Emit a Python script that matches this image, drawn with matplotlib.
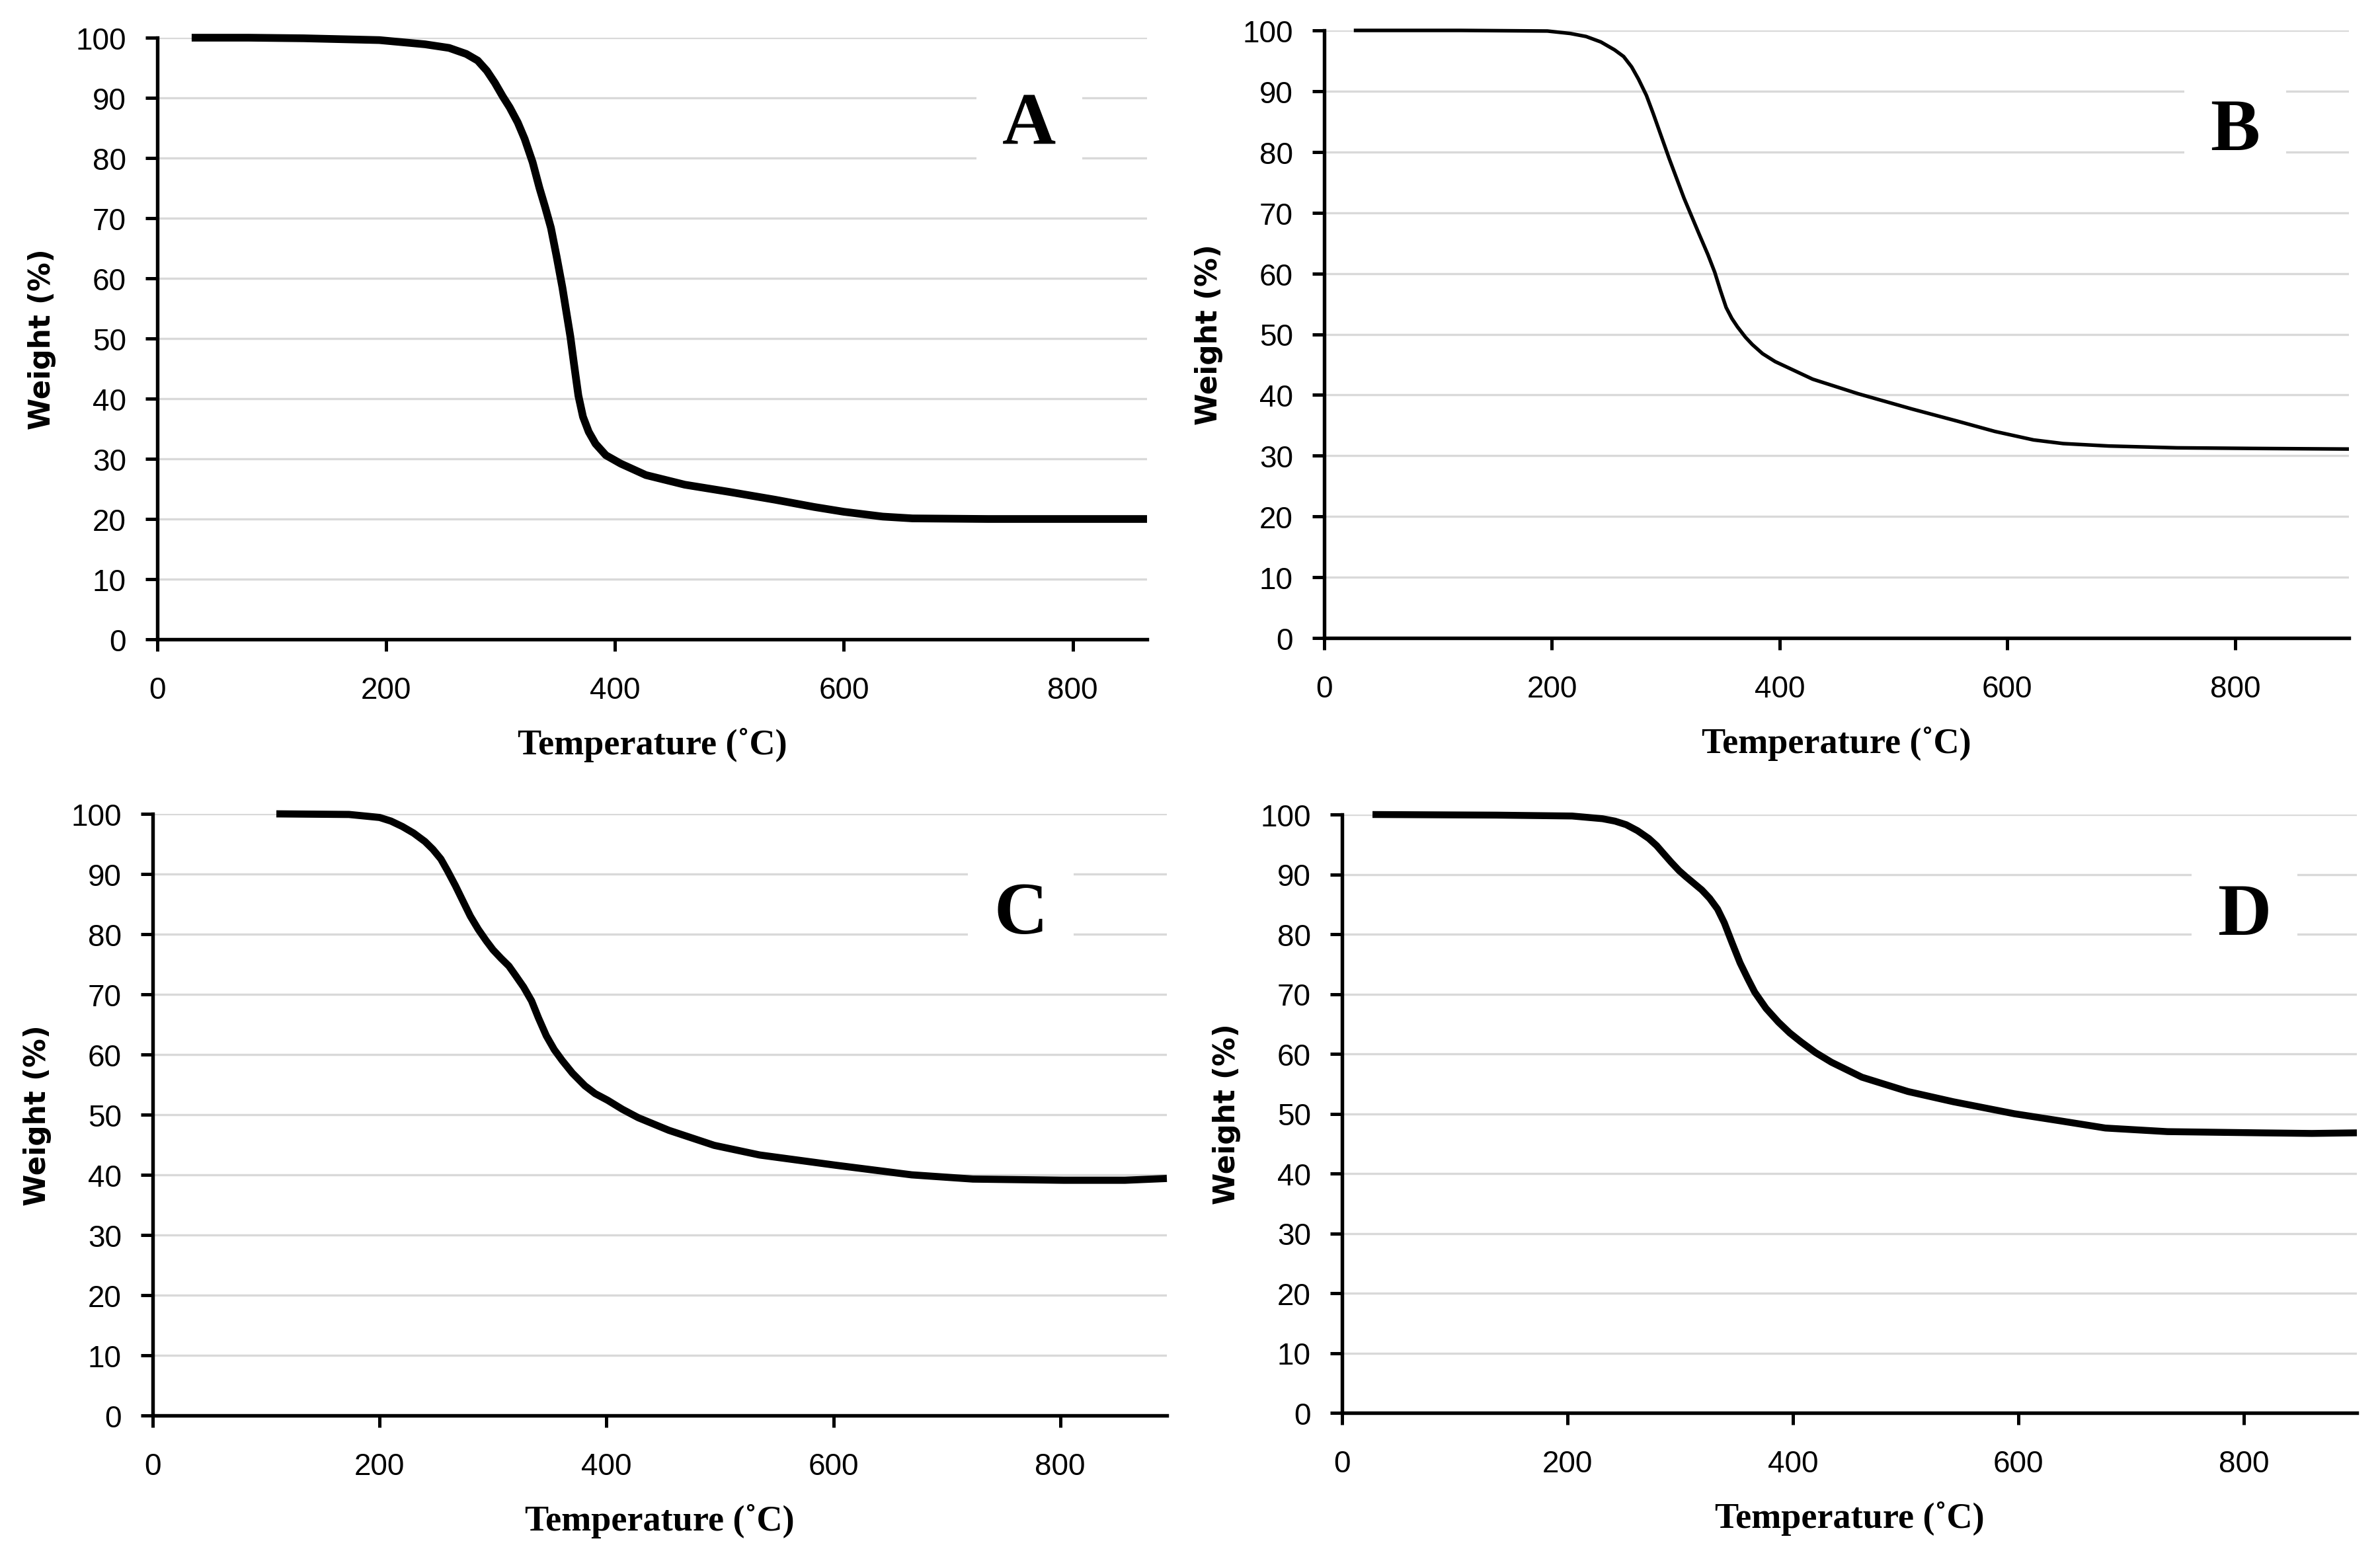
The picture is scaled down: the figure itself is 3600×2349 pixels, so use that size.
import matplotlib
matplotlib.use("Agg")
import matplotlib.pyplot as plt

# TGA curves (temperature in C, weight in %)
temp_a = [30, 80, 128, 194, 234, 255, 270, 280, 288, 295, 302, 308, 315, 321, 328, 334,
          339, 344, 349, 354, 358, 361, 364, 368, 372, 377, 383, 392, 405, 427, 461,
          500, 540, 574, 600, 634, 660, 726, 865]
weight_a = [100, 100, 99.9, 99.6, 98.9, 98.3, 97.3, 96.2, 94.5, 92.5, 90.2, 88.4, 85.9, 83.2, 79.3, 75,
            71.8, 68.4, 63.6, 58.5, 53.8, 50.3, 46, 40.5, 37, 34.5, 32.5, 30.6, 29.2, 27.3, 25.7,
            24.5, 23.2, 22.0, 21.2, 20.4, 20.1, 20.0, 20.0]

temp_b = [26, 120, 196, 216, 230, 243, 255, 263, 270, 276, 283, 289, 296, 303, 316, 329,
          337, 343, 348, 353, 358, 363, 370, 376, 385, 396, 429, 469, 516, 556, 589,
          623, 649, 689, 749, 816, 900]
weight_b = [100, 100, 99.9, 99.5, 99.0, 98.1, 96.8, 95.7, 94, 92, 89.3, 86.3, 82.6, 78.9, 72.4, 66.6,
            63.1, 60.2, 57.2, 54.4, 52.6, 51.2, 49.5, 48.3, 46.8, 45.5, 42.6, 40.2, 37.7, 35.7, 34.0,
            32.6, 32.0, 31.6, 31.3, 31.2, 31.1]

temp_c = [109, 173, 200, 210, 220, 230, 240, 247, 254, 260, 267, 274, 280, 287, 294, 300,
          307, 314, 320, 327, 334, 340, 347, 354, 361, 370, 381, 390, 401, 414, 428,
          455, 495, 535, 602, 669, 723, 803, 857, 894]
weight_c = [100, 99.9, 99.4, 98.8, 97.9, 96.8, 95.4, 94.1, 92.5, 90.5, 88, 85.3, 83, 80.8, 78.9, 77.4,
            76, 74.7, 73.1, 71.2, 68.9, 66.1, 63.1, 60.8, 59, 56.9, 54.8, 53.5, 52.4, 50.9, 49.5,
            47.4, 44.9, 43.3, 41.6, 40.0, 39.3, 39.1, 39.1, 39.4]

temp_d = [27, 137, 204, 231, 242, 252, 262, 272, 279, 285, 292, 299, 305, 312, 319, 326,
          333, 339, 346, 353, 360, 366, 376, 387, 397, 407, 420, 434, 461, 502, 542,
          596, 637, 677, 732, 813, 860, 900]
weight_d = [100, 99.9, 99.75, 99.3, 98.9, 98.3, 97.3, 96, 94.8, 93.5, 92, 90.6, 89.6, 88.5, 87.4, 86,
            84.2, 81.9, 78.5, 75.2, 72.5, 70.3, 67.6, 65.3, 63.5, 62, 60.2, 58.6, 56.1, 53.7, 52,
            50, 48.8, 47.6, 47.0, 46.8, 46.7, 46.8]

panels = [
    ("A", temp_a, weight_a, 865, 2.8),
    ("B", temp_b, weight_b, 900, 1.3),
    ("C", temp_c, weight_c, 894, 2.6),
    ("D", temp_d, weight_d, 900, 2.5),
]

# axes boxes in pixels of the 3600x2350 picture: left, right, top, bottom
boxes = [(238, 1735, 58, 968), (2003, 3553, 47, 966),
         (231, 1765, 1232, 2142), (2030, 3565, 1233, 2138)]
letter_pos = [(0.881, 0.853), (0.889, 0.834), (0.856, 0.832), (0.889, 0.830)]

W, H = 3600, 2350
fig = plt.figure(figsize=(12, 7.8333), dpi=300)

tick_font = ["Liberation Sans", "DejaVu Sans"]
serif_font = ["Liberation Serif", "DejaVu Serif"]

for (name, tx, wy, xmax, lw), (l, r, t, b), (lx, ly) in zip(panels, boxes, letter_pos):
    ax = fig.add_axes([l / W, 1 - b / H, (r - l) / W, (b - t) / H])
    ax.plot(tx, wy, color="black", lw=lw, solid_capstyle="butt",
            solid_joinstyle="round", clip_on=False, zorder=3)
    ax.set_xlim(0, xmax)
    ax.set_ylim(0, 100)
    ax.set_xticks([0, 200, 400, 600, 800])
    ax.set_yticks(range(0, 101, 10))
    ax.grid(axis="y", color="#d9d9d9", lw=0.8)
    ax.set_axisbelow(True)
    for s in ["top", "right"]:
        ax.spines[s].set_visible(False)
    for s in ["left", "bottom"]:
        ax.spines[s].set_linewidth(1.3)
        ax.spines[s].set_zorder(4)
    ax.tick_params(direction="out", length=4.3, width=1.2, labelsize=11, color="black")
    ax.tick_params(axis="x", pad=9)
    ax.tick_params(axis="y", pad=7)
    for lab in ax.get_xticklabels() + ax.get_yticklabels():
        lab.set_family(tick_font)
    ax.set_xlabel("Temperature (˚C)", family=serif_font, fontweight="bold",
                  fontsize=13, labelpad=8)
    ax.set_ylabel("Weight (%)", family=["DejaVu Sans"], fontweight="bold",
                  fontsize=10.5, labelpad=7)
    ax.text(lx, ly, name, transform=ax.transAxes, ha="center", va="center",
            family=serif_font, fontweight="bold", fontsize=27, zorder=5,
            bbox=dict(boxstyle="square,pad=0.35", fc="white", ec="none"))

fig.savefig("out.png", dpi=300)
